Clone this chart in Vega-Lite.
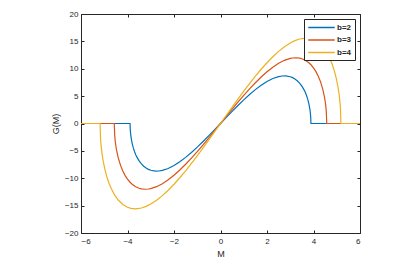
{
  "$schema": "https://vega.github.io/schema/vega-lite/v6.json",
  "width": 279,
  "height": 219,
  "autosize": "none",
  "padding": {"left": 81, "top": 14, "right": 59, "bottom": 32},
  "background": "white",
  "config": {
    "view": {"stroke": "#262626", "strokeWidth": 1},
    "font": "Liberation Sans",
    "axis": {
      "domain": false,
      "grid": false,
      "tickColor": "#262626",
      "tickSize": -3,
      "labelColor": "#262626",
      "labelFontSize": 8,
      "labelFont": "Liberation Sans",
      "titleColor": "#262626",
      "titleFontSize": 9,
      "titleFontWeight": "normal",
      "titleFont": "Liberation Sans"
    }
  },
  "data": {
    "values": [
      {"M": -6, "G": 0, "b": "b=2"},
      {"M": -3.89, "G": 0, "b": "b=2"},
      {"M": -3.88, "G": -1.227, "b": "b=2"},
      {"M": -3.85, "G": -2.455, "b": "b=2"},
      {"M": -3.8, "G": -3.63, "b": "b=2"},
      {"M": -3.75, "G": -4.456, "b": "b=2"},
      {"M": -3.7, "G": -5.106, "b": "b=2"},
      {"M": -3.65, "G": -5.643, "b": "b=2"},
      {"M": -3.6, "G": -6.099, "b": "b=2"},
      {"M": -3.5, "G": -6.831, "b": "b=2"},
      {"M": -3.4, "G": -7.388, "b": "b=2"},
      {"M": -3.3, "G": -7.814, "b": "b=2"},
      {"M": -3.2, "G": -8.138, "b": "b=2"},
      {"M": -3.1, "G": -8.375, "b": "b=2"},
      {"M": -3.0, "G": -8.541, "b": "b=2"},
      {"M": -2.8, "G": -8.694, "b": "b=2"},
      {"M": -2.65, "G": -8.677, "b": "b=2"},
      {"M": -2.5, "G": -8.567, "b": "b=2"},
      {"M": -2.25, "G": -8.21, "b": "b=2"},
      {"M": -2.0, "G": -7.673, "b": "b=2"},
      {"M": -1.75, "G": -6.991, "b": "b=2"},
      {"M": -1.5, "G": -6.191, "b": "b=2"},
      {"M": -1.25, "G": -5.295, "b": "b=2"},
      {"M": -1.0, "G": -4.323, "b": "b=2"},
      {"M": -0.75, "G": -3.292, "b": "b=2"},
      {"M": -0.5, "G": -2.218, "b": "b=2"},
      {"M": -0.25, "G": -1.116, "b": "b=2"},
      {"M": 0, "G": 0, "b": "b=2"},
      {"M": 0.25, "G": 1.116, "b": "b=2"},
      {"M": 0.5, "G": 2.218, "b": "b=2"},
      {"M": 0.75, "G": 3.292, "b": "b=2"},
      {"M": 1.0, "G": 4.323, "b": "b=2"},
      {"M": 1.25, "G": 5.295, "b": "b=2"},
      {"M": 1.5, "G": 6.191, "b": "b=2"},
      {"M": 1.75, "G": 6.991, "b": "b=2"},
      {"M": 2.0, "G": 7.673, "b": "b=2"},
      {"M": 2.25, "G": 8.21, "b": "b=2"},
      {"M": 2.5, "G": 8.567, "b": "b=2"},
      {"M": 2.65, "G": 8.677, "b": "b=2"},
      {"M": 2.8, "G": 8.694, "b": "b=2"},
      {"M": 3.0, "G": 8.541, "b": "b=2"},
      {"M": 3.1, "G": 8.375, "b": "b=2"},
      {"M": 3.2, "G": 8.138, "b": "b=2"},
      {"M": 3.3, "G": 7.814, "b": "b=2"},
      {"M": 3.4, "G": 7.388, "b": "b=2"},
      {"M": 3.5, "G": 6.831, "b": "b=2"},
      {"M": 3.6, "G": 6.099, "b": "b=2"},
      {"M": 3.65, "G": 5.643, "b": "b=2"},
      {"M": 3.7, "G": 5.106, "b": "b=2"},
      {"M": 3.75, "G": 4.456, "b": "b=2"},
      {"M": 3.8, "G": 3.63, "b": "b=2"},
      {"M": 3.85, "G": 2.455, "b": "b=2"},
      {"M": 3.88, "G": 1.227, "b": "b=2"},
      {"M": 3.89, "G": 0, "b": "b=2"},
      {"M": 6, "G": 0, "b": "b=2"},

      {"M": -6, "G": 0, "b": "b=3"},
      {"M": -4.57, "G": 0, "b": "b=3"},
      {"M": -4.55, "G": -2.204, "b": "b=3"},
      {"M": -4.53, "G": -3.122, "b": "b=3"},
      {"M": -4.5, "G": -4.108, "b": "b=3"},
      {"M": -4.47, "G": -4.874, "b": "b=3"},
      {"M": -4.4, "G": -6.239, "b": "b=3"},
      {"M": -4.3, "G": -7.645, "b": "b=3"},
      {"M": -4.2, "G": -8.694, "b": "b=3"},
      {"M": -4.1, "G": -9.511, "b": "b=3"},
      {"M": -4.0, "G": -10.161, "b": "b=3"},
      {"M": -3.9, "G": -10.679, "b": "b=3"},
      {"M": -3.8, "G": -11.09, "b": "b=3"},
      {"M": -3.65, "G": -11.539, "b": "b=3"},
      {"M": -3.5, "G": -11.825, "b": "b=3"},
      {"M": -3.4, "G": -11.937, "b": "b=3"},
      {"M": -3.25, "G": -12.008, "b": "b=3"},
      {"M": -3.1, "G": -11.968, "b": "b=3"},
      {"M": -3.0, "G": -11.892, "b": "b=3"},
      {"M": -2.75, "G": -11.541, "b": "b=3"},
      {"M": -2.5, "G": -10.997, "b": "b=3"},
      {"M": -2.25, "G": -10.291, "b": "b=3"},
      {"M": -2.0, "G": -9.45, "b": "b=3"},
      {"M": -1.75, "G": -8.495, "b": "b=3"},
      {"M": -1.5, "G": -7.445, "b": "b=3"},
      {"M": -1.25, "G": -6.318, "b": "b=3"},
      {"M": -1.0, "G": -5.128, "b": "b=3"},
      {"M": -0.75, "G": -3.888, "b": "b=3"},
      {"M": -0.5, "G": -2.612, "b": "b=3"},
      {"M": -0.25, "G": -1.312, "b": "b=3"},
      {"M": 0, "G": 0, "b": "b=3"},
      {"M": 0.25, "G": 1.312, "b": "b=3"},
      {"M": 0.5, "G": 2.612, "b": "b=3"},
      {"M": 0.75, "G": 3.888, "b": "b=3"},
      {"M": 1.0, "G": 5.128, "b": "b=3"},
      {"M": 1.25, "G": 6.318, "b": "b=3"},
      {"M": 1.5, "G": 7.445, "b": "b=3"},
      {"M": 1.75, "G": 8.495, "b": "b=3"},
      {"M": 2.0, "G": 9.45, "b": "b=3"},
      {"M": 2.25, "G": 10.291, "b": "b=3"},
      {"M": 2.5, "G": 10.997, "b": "b=3"},
      {"M": 2.75, "G": 11.541, "b": "b=3"},
      {"M": 3.0, "G": 11.892, "b": "b=3"},
      {"M": 3.1, "G": 11.968, "b": "b=3"},
      {"M": 3.25, "G": 12.008, "b": "b=3"},
      {"M": 3.4, "G": 11.937, "b": "b=3"},
      {"M": 3.5, "G": 11.825, "b": "b=3"},
      {"M": 3.65, "G": 11.539, "b": "b=3"},
      {"M": 3.8, "G": 11.09, "b": "b=3"},
      {"M": 3.9, "G": 10.679, "b": "b=3"},
      {"M": 4.0, "G": 10.161, "b": "b=3"},
      {"M": 4.1, "G": 9.511, "b": "b=3"},
      {"M": 4.2, "G": 8.694, "b": "b=3"},
      {"M": 4.3, "G": 7.645, "b": "b=3"},
      {"M": 4.4, "G": 6.239, "b": "b=3"},
      {"M": 4.47, "G": 4.874, "b": "b=3"},
      {"M": 4.5, "G": 4.108, "b": "b=3"},
      {"M": 4.53, "G": 3.122, "b": "b=3"},
      {"M": 4.55, "G": 2.204, "b": "b=3"},
      {"M": 4.57, "G": 0, "b": "b=3"},
      {"M": 6, "G": 0, "b": "b=3"},

      {"M": -6, "G": 0, "b": "b=4"},
      {"M": -5.18, "G": 0, "b": "b=4"},
      {"M": -5.16, "G": -2.71, "b": "b=4"},
      {"M": -5.145, "G": -3.58, "b": "b=4"},
      {"M": -5.12, "G": -4.67, "b": "b=4"},
      {"M": -5.09, "G": -5.676, "b": "b=4"},
      {"M": -5.05, "G": -6.76, "b": "b=4"},
      {"M": -4.98, "G": -8.242, "b": "b=4"},
      {"M": -4.9, "G": -9.56, "b": "b=4"},
      {"M": -4.8, "G": -10.855, "b": "b=4"},
      {"M": -4.7, "G": -11.88, "b": "b=4"},
      {"M": -4.55, "G": -13.081, "b": "b=4"},
      {"M": -4.4, "G": -13.97, "b": "b=4"},
      {"M": -4.2, "G": -14.789, "b": "b=4"},
      {"M": -4.0, "G": -15.29, "b": "b=4"},
      {"M": -3.85, "G": -15.495, "b": "b=4"},
      {"M": -3.66, "G": -15.58, "b": "b=4"},
      {"M": -3.4, "G": -15.43, "b": "b=4"},
      {"M": -3.2, "G": -15.139, "b": "b=4"},
      {"M": -3.0, "G": -14.71, "b": "b=4"},
      {"M": -2.75, "G": -14.019, "b": "b=4"},
      {"M": -2.5, "G": -13.17, "b": "b=4"},
      {"M": -2.25, "G": -12.193, "b": "b=4"},
      {"M": -2.0, "G": -11.1, "b": "b=4"},
      {"M": -1.75, "G": -9.91, "b": "b=4"},
      {"M": -1.5, "G": -8.64, "b": "b=4"},
      {"M": -1.25, "G": -7.298, "b": "b=4"},
      {"M": -1.0, "G": -5.9, "b": "b=4"},
      {"M": -0.75, "G": -4.465, "b": "b=4"},
      {"M": -0.5, "G": -2.99, "b": "b=4"},
      {"M": -0.25, "G": -1.502, "b": "b=4"},
      {"M": 0, "G": 0, "b": "b=4"},
      {"M": 0.25, "G": 1.502, "b": "b=4"},
      {"M": 0.5, "G": 2.99, "b": "b=4"},
      {"M": 0.75, "G": 4.465, "b": "b=4"},
      {"M": 1.0, "G": 5.9, "b": "b=4"},
      {"M": 1.25, "G": 7.298, "b": "b=4"},
      {"M": 1.5, "G": 8.64, "b": "b=4"},
      {"M": 1.75, "G": 9.91, "b": "b=4"},
      {"M": 2.0, "G": 11.1, "b": "b=4"},
      {"M": 2.25, "G": 12.193, "b": "b=4"},
      {"M": 2.5, "G": 13.17, "b": "b=4"},
      {"M": 2.75, "G": 14.019, "b": "b=4"},
      {"M": 3.0, "G": 14.71, "b": "b=4"},
      {"M": 3.2, "G": 15.139, "b": "b=4"},
      {"M": 3.4, "G": 15.43, "b": "b=4"},
      {"M": 3.66, "G": 15.58, "b": "b=4"},
      {"M": 3.85, "G": 15.495, "b": "b=4"},
      {"M": 4.0, "G": 15.29, "b": "b=4"},
      {"M": 4.2, "G": 14.789, "b": "b=4"},
      {"M": 4.4, "G": 13.97, "b": "b=4"},
      {"M": 4.55, "G": 13.081, "b": "b=4"},
      {"M": 4.7, "G": 11.88, "b": "b=4"},
      {"M": 4.8, "G": 10.855, "b": "b=4"},
      {"M": 4.9, "G": 9.56, "b": "b=4"},
      {"M": 4.98, "G": 8.242, "b": "b=4"},
      {"M": 5.05, "G": 6.76, "b": "b=4"},
      {"M": 5.09, "G": 5.676, "b": "b=4"},
      {"M": 5.12, "G": 4.67, "b": "b=4"},
      {"M": 5.145, "G": 3.58, "b": "b=4"},
      {"M": 5.16, "G": 2.71, "b": "b=4"},
      {"M": 5.18, "G": 0, "b": "b=4"},
      {"M": 6, "G": 0, "b": "b=4"}
    ]
  },
  "layer": [
    {
      "mark": {"type": "line", "strokeWidth": 1.2, "clip": true},
      "encoding": {
        "x": {
          "field": "M", "type": "quantitative",
          "scale": {"domain": [-6, 6], "nice": false},
          "axis": {"orient": "bottom", "values": [-6, -4, -2, 0, 2, 4, 6], "title": "M", "labelPadding": 7, "titlePadding": 4}
        },
        "y": {
          "field": "G", "type": "quantitative",
          "scale": {"domain": [-20, 20], "nice": false},
          "axis": {"orient": "left", "values": [-20, -15, -10, -5, 0, 5, 10, 15, 20], "title": "G(M)", "labelPadding": 6, "titlePadding": 4}
        },
        "color": {
          "field": "b", "type": "nominal",
          "scale": {"domain": ["b=2", "b=3", "b=4"], "range": ["#0072BD", "#D95319", "#EDB120"]},
          "legend": {
            "title": null,
            "orient": "none",
            "legendX": 223,
            "legendY": 5,
            "symbolType": "M-3,0H3",
            "symbolSize": 78,
            "symbolOffset": 9,
            "symbolStrokeWidth": 1.5,
            "labelFontSize": 8,
            "labelFontWeight": "bold",
            "labelColor": "#262626",
            "labelFont": "Liberation Sans",
            "labelOffset": 10,
            "rowPadding": 2.5,
            "padding": 3,
            "strokeColor": "#262626",
            "fillColor": "white"
          }
        }
      }
    },
    {
      "mark": {"type": "line", "opacity": 0},
      "encoding": {
        "x": {
          "field": "M", "type": "quantitative",
          "scale": {"domain": [-6, 6], "nice": false},
          "axis": {"orient": "top", "values": [-6, -4, -2, 0, 2, 4, 6], "labels": false, "title": null}
        },
        "y": {
          "field": "G", "type": "quantitative",
          "scale": {"domain": [-20, 20], "nice": false},
          "axis": {"orient": "right", "values": [-20, -15, -10, -5, 0, 5, 10, 15, 20], "labels": false, "title": null}
        },
        "detail": {"field": "b", "type": "nominal"}
      }
    }
  ],
  "resolve": {"axis": {"x": "independent", "y": "independent"}}
}
